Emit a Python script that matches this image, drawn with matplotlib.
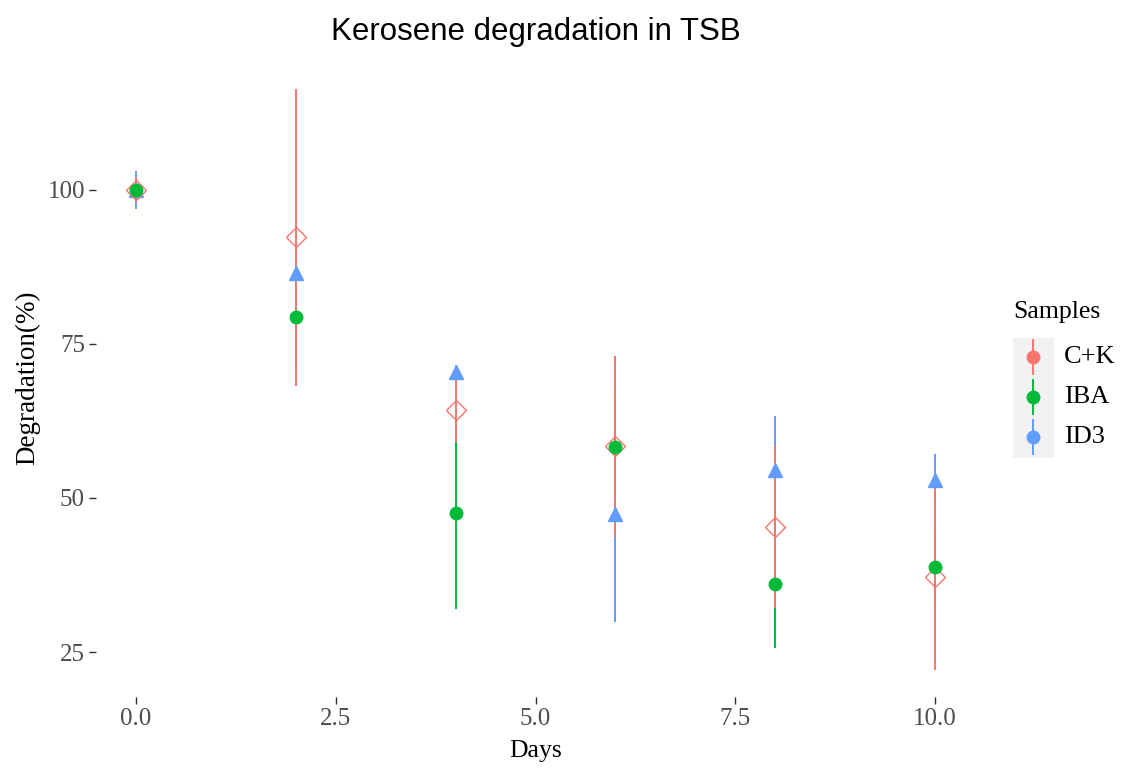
import matplotlib.pyplot as plt
from matplotlib.lines import Line2D
from matplotlib.patches import Rectangle

# Values
days = [0, 2, 4, 6, 8, 10]
samples = ['C+K', 'IBA', 'ID3']

ck_mean = [100.0, 92.3, 64.2, 58.4, 45.3, 37.1]
ck_sd = [2.0, 24.1, 5.1, 14.7, 13.1, 15.0]
iba_mean = [100.0, 79.4, 47.5, 58.3, 36.1, 38.8]
iba_sd = [1.0, 8.0, 15.6, 8.0, 10.5, 6.0]
id3_mean = [100.0, 86.5, 70.5, 47.4, 54.5, 52.9]
id3_sd = [3.1, 5.0, 1.0, 17.5, 8.8, 4.2]

xticks = [0.0, 2.5, 5.0, 7.5, 10.0]
yticks = [25, 50, 75, 100]

colors = {'C+K': '#F8766D', 'IBA': '#00BA38', 'ID3': '#619CFF'}
serif = 'Liberation Serif'

fig = plt.figure(figsize=(11.26, 7.68), dpi=100)
ax = fig.add_axes([96 / 1126, 1 - 697 / 768, (975 - 96) / 1126, (697 - 59) / 768])

# error bars: blue, green, then red on top
for mean, sd, name, z in [(id3_mean, id3_sd, 'ID3', 1),
                          (iba_mean, iba_sd, 'IBA', 2),
                          (ck_mean, ck_sd, 'C+K', 3)]:
    lo = [m - s for m, s in zip(mean, sd)]
    hi = [m + s for m, s in zip(mean, sd)]
    ax.vlines(days, lo, hi, colors=colors[name], lw=1.4, zorder=z)

ax.plot(days, id3_mean, ls='none', marker='^', ms=10, color=colors['ID3'], zorder=4)
ax.plot(days, ck_mean, ls='none', marker='D', ms=10, mfc='white', mec=colors['C+K'],
        mew=1.0, fillstyle='none', zorder=5)
ax.plot(days, iba_mean, ls='none', marker='o', ms=9, color=colors['IBA'], zorder=6)

ax.set_xlim(-0.5, 10.5)
ax.set_ylim(17.7, 121.2)
ax.set_xticks(xticks)
ax.set_xticklabels([f'{t:.1f}' for t in xticks])
ax.set_yticks(yticks)
for s in ax.spines.values():
    s.set_visible(False)
ax.tick_params(length=5, width=1, color='#333333', labelcolor='#4D4D4D',
               labelsize=18, pad=3)
for lab in ax.get_xticklabels() + ax.get_yticklabels():
    lab.set_family(serif)

ax.set_xlabel('Days', family=serif, fontsize=18.5, labelpad=7)
ax.set_ylabel('Degradation(%)', family=serif, fontsize=19.5, labelpad=5)
fig.text(535.5 / 1126, 1 - 40 / 768, 'Kerosene degradation in TSB',
         family='Liberation Sans', fontsize=22.5, ha='center', va='baseline')

# legend, drawn by hand to match the ggplot key look
def fx(px):
    return px / 1126

def fy(py):
    return 1 - py / 768

fig.text(fx(1013), fy(312), 'Samples', family=serif, fontsize=18.5, va='center', ha='left')
fig.add_artist(Rectangle((fx(1013), fy(458)), fx(1054) - fx(1013), fy(338) - fy(458),
                         transform=fig.transFigure, color='#F2F2F2', lw=0))
for i, name in enumerate(samples):
    yc = 357 + 40 * i
    fig.add_artist(Line2D([fx(1033), fx(1033)], [fy(yc - 17), fy(yc + 17)],
                          transform=fig.transFigure, color=colors[name], lw=1.4))
    fig.add_artist(Line2D([fx(1033)], [fy(yc)], transform=fig.transFigure,
                          marker='o', ms=9, color=colors[name], ls='none'))
    fig.text(fx(1064), fy(yc), name, family=serif, fontsize=19, va='center', ha='left')

fig.savefig('out.png', dpi=100)
